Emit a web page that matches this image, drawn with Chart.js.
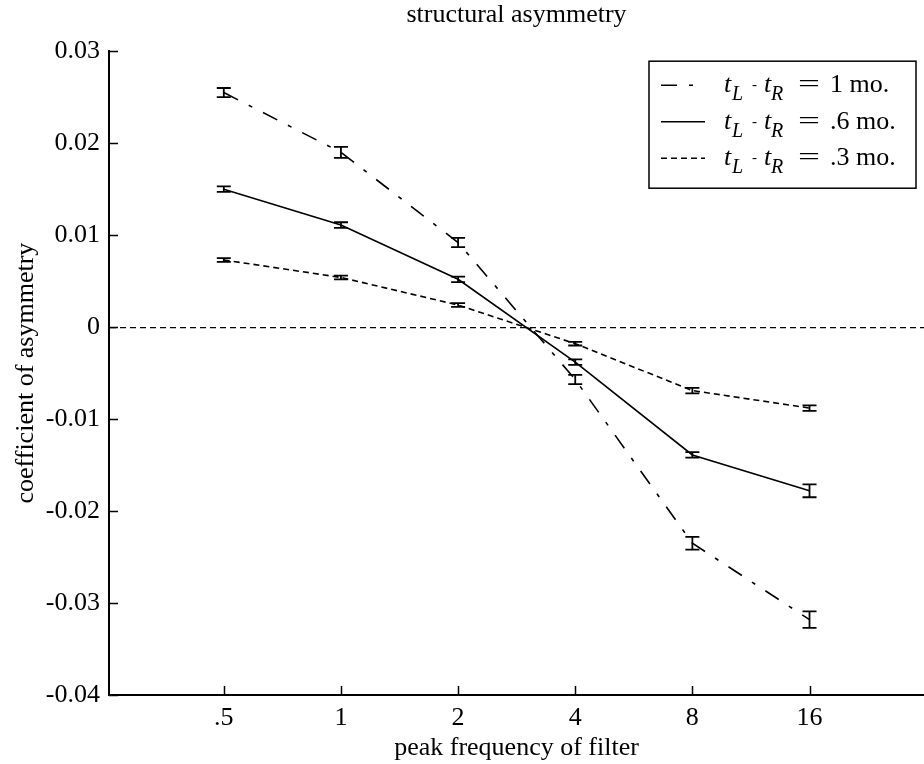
<!DOCTYPE html>
<html>
<head>
<meta charset="utf-8">
<script src="https://cdn.jsdelivr.net/npm/chart.js@4.4.1/dist/chart.umd.min.js"></script>
<style>
  html, body { margin: 0; padding: 0; background: #fff; }
</style>
</head>
<body>
<canvas id="asym" width="924" height="764"></canvas>
<script>
// peak frequency of the filter, log2 spaced
const freqs = [0.5, 1, 2, 4, 8, 16];
const freqLabels = ['.5', '1', '2', '4', '8', '16'];
const yTicks = [0.03, 0.02, 0.01, 0, -0.01, -0.02, -0.03, -0.04];
const yLabels = ['0.03', '0.02', '0.01', '0', '-0.01', '-0.02', '-0.03', '-0.04'];

// age gap t_L - t_R for each curve
const gapLabels = ['1 mo.', '.6 mo.', '.3 mo.'];

const asym1mo  = [0.0255, 0.0190, 0.0092, -0.0057, -0.0235, -0.0318];
const err1mo   = [0.0005, 0.0006, 0.0005, 0.0005, 0.0007, 0.0009];
const asym06mo = [0.0150, 0.0111, 0.0052, -0.0038, -0.0139, -0.0178];
const err06mo  = [0.0003, 0.0003, 0.0003, 0.0003, 0.0003, 0.0007];
const asym03mo = [0.0073, 0.0054, 0.0024, -0.0018, -0.0069, -0.0088];
const err03mo  = [0.0002, 0.0002, 0.0002, 0.0002, 0.0003, 0.0003];

const FONT = 'Liberation Serif';
const INK = '#000';

Chart.defaults.font.family = FONT;
Chart.defaults.font.size = 26;
Chart.defaults.color = INK;

const dashes = [[16, 12, 4, 12], [], [6, 4]];

function series(vals, errs, dash) {
  return {
    data: freqs.map((f, i) => ({ x: f, y: vals[i] })),
    errors: errs,
    borderColor: INK,
    borderWidth: 1.6,
    borderDash: dash,
    pointRadius: 0,
    tension: 0,
    fill: false
  };
}

// I-shaped error bars at every point
const errorBars = {
  id: 'errorBars',
  afterDatasetsDraw(chart) {
    const ctx = chart.ctx;
    const xs = chart.scales.x, ys = chart.scales.y;
    ctx.save();
    ctx.strokeStyle = INK;
    ctx.lineWidth = 1.8;
    ctx.setLineDash([]);
    chart.data.datasets.forEach(ds => {
      ds.data.forEach((p, i) => {
        const x = xs.getPixelForValue(p.x);
        const top = ys.getPixelForValue(p.y + ds.errors[i]);
        const bot = ys.getPixelForValue(p.y - ds.errors[i]);
        ctx.beginPath();
        ctx.moveTo(x, top); ctx.lineTo(x, bot);
        ctx.moveTo(x - 7, top); ctx.lineTo(x + 7, top);
        ctx.moveTo(x - 7, bot); ctx.lineTo(x + 7, bot);
        ctx.stroke();
      });
    });
    ctx.restore();
  }
};

// tick marks point inward, matlab style
const innerTicks = {
  id: 'innerTicks',
  afterDraw(chart) {
    const ctx = chart.ctx;
    const a = chart.chartArea;
    ctx.save();
    ctx.strokeStyle = INK;
    ctx.lineWidth = 1.5;
    ctx.beginPath();
    chart.scales.y.ticks.forEach(t => {
      const y = Math.round(chart.scales.y.getPixelForValue(t.value)) + 0.5;
      ctx.moveTo(a.left, y); ctx.lineTo(a.left + 9, y);
    });
    chart.scales.x.ticks.forEach(t => {
      const x = Math.round(chart.scales.x.getPixelForValue(t.value)) + 0.5;
      ctx.moveTo(x, a.bottom); ctx.lineTo(x, a.bottom - 9);
    });
    ctx.stroke();
    ctx.restore();
  }
};

// boxed legend with t_L - t_R subscripts
const gapLegend = {
  id: 'gapLegend',
  afterDraw(chart) {
    const ctx = chart.ctx;
    const a = chart.chartArea;
    const w = 267, h = 127;
    const bx = a.right - 8 - w, by = a.top + 10;
    ctx.save();
    ctx.fillStyle = '#fff';
    ctx.fillRect(bx, by, w, h);
    ctx.strokeStyle = INK;
    ctx.lineWidth = 1.5;
    ctx.strokeRect(bx, by, w, h);

    const big = '26px ' + FONT, it = 'italic 26px ' + FONT, sub = 'italic 20px ' + FONT;
    chart.data.datasets.forEach((ds, i) => {
      const cy = by + 24 + i * 36.5;
      ctx.beginPath();
      ctx.setLineDash(ds.borderDash);
      ctx.lineWidth = 1.6;
      ctx.moveTo(bx + 12, cy); ctx.lineTo(bx + 56, cy);
      ctx.stroke();
      ctx.setLineDash([]);

      const tx = bx + 75, base = cy + 7;
      const parts = [
        { t: 't', f: it, x: 0, dy: 0, sx: 1 },
        { t: 'L', f: sub, x: 8, dy: 8, sx: 1 },
        { t: '-', f: '15px ' + FONT, x: 28, dy: -3, sx: 1 },
        { t: 't', f: it, x: 40, dy: 0, sx: 1 },
        { t: 'R', f: sub, x: 47, dy: 8, sx: 1 },
        { t: '=', f: big, x: 74, dy: 0, sx: 1.5 },
        { t: gapLabels[i], f: big, x: 106, dy: 0, sx: 1 }
      ];
      ctx.fillStyle = INK;
      ctx.textBaseline = 'alphabetic';
      parts.forEach(p => {
        ctx.font = p.f;
        ctx.save();
        ctx.translate(tx + p.x, base + p.dy);
        ctx.scale(p.sx, 1);
        ctx.fillText(p.t, 0, 0);
        ctx.restore();
      });
    });
    ctx.restore();
  }
};

new Chart(document.getElementById('asym'), {
  type: 'line',
  data: {
    datasets: [
      series(asym1mo, err1mo, dashes[0]),
      series(asym06mo, err06mo, dashes[1]),
      series(asym03mo, err03mo, dashes[2])
    ]
  },
  options: {
    responsive: false,
    animation: false,
    layout: { padding: 0 },
    plugins: {
      legend: { display: false },
      tooltip: { enabled: false },
      title: {
        display: true,
        text: 'structural asymmetry',
        fullSize: false,
        color: INK,
        font: { size: 26, weight: 'normal' },
        padding: { top: 0, bottom: 20 }
      }
    },
    scales: {
      x: {
        type: 'logarithmic',
        min: 0.2535,
        max: 31.5,
        afterBuildTicks: s => { s.ticks = freqs.map(v => ({ value: v })); },
        afterFit: s => { s.height = 69; },
        ticks: {
          padding: 8,
          autoSkip: false,
          maxRotation: 0,
          callback: (v, i) => freqLabels[i]
        },
        grid: { display: false, drawTicks: false },
        border: { display: true, color: INK, width: 2 },
        title: {
          display: true,
          text: 'peak frequency of filter',
          color: INK,
          padding: { top: 0, bottom: 0 }
        }
      },
      y: {
        type: 'linear',
        min: -0.04,
        max: 0.03,
        afterBuildTicks: s => { s.ticks = yTicks.map(v => ({ value: v })); },
        afterFit: s => { s.width = 109; },
        ticks: {
          padding: 9,
          callback: (v, i) => yLabels[i]
        },
        grid: {
          drawTicks: false,
          lineWidth: 1.2,
          color: c => (c.tick && c.tick.value === 0 ? INK : 'rgba(0,0,0,0)')
        },
        border: { display: true, color: INK, width: 2, dash: [6, 4] },
        title: {
          display: true,
          text: 'coefficient of asymmetry',
          color: INK,
          padding: { top: 11, bottom: 0 }
        }
      }
    }
  },
  plugins: [errorBars, innerTicks, gapLegend]
});
</script>
</body>
</html>
